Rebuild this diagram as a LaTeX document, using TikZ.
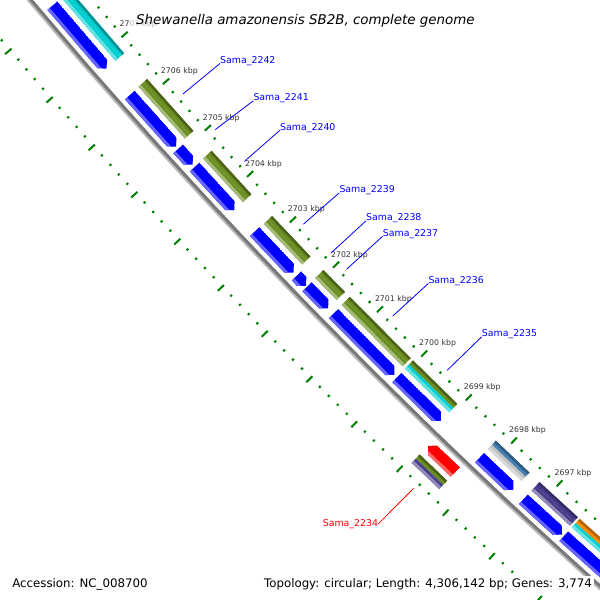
\documentclass[tikz,border=0pt]{standalone}
\usepackage{fontspec}
\setmainfont{DejaVu Sans}

\definecolor{cdsblue}{RGB}{0,0,255}
\definecolor{cogolive}{RGB}{107,142,35}
\definecolor{cogcyan}{RGB}{0,206,209}
\definecolor{cogpurple}{RGB}{72,61,139}
\definecolor{cogsteel}{RGB}{70,130,180}
\definecolor{cogsilver}{RGB}{192,192,192}
\definecolor{cogorange}{RGB}{255,140,0}
\definecolor{tickgreen}{RGB}{0,128,0}
\definecolor{bbdark}{RGB}{120,120,120}
\definecolor{bblight}{RGB}{185,185,185}

\newcommand{\cds}[5]{%
  \pgfmathsetmacro{\headu}{#2+0.1*sign(#1-(#2))}%
  \pgfmathsetmacro{\midr}{(#3+(#4))/2}%
  \begin{scope}
    \clip ({ga(#1)}:{rr(#3)}) -- ({ga(\headu)}:{rr(#3)}) -- ({ga(#2)}:{rr(\midr)}) -- ({ga(\headu)}:{rr(#4)}) -- ({ga(#1)}:{rr(#4)}) -- cycle;
    \fill[#5] ({ga(#1)}:{rr(#3)}) -- ({ga(#2)}:{rr(#3)}) -- ({ga(#2)}:{rr(#4)}) -- ({ga(#1)}:{rr(#4)}) -- cycle;
    \fill[#5!60!white] ({ga(#1)}:{rr(#4-3)}) -- ({ga(#2)}:{rr(#4-3)}) -- ({ga(#2)}:{rr(#4)}) -- ({ga(#1)}:{rr(#4)}) -- cycle;
  \end{scope}}

\newcommand{\cog}[6]{%
  \pgfmathsetmacro{\midr}{(#3+(#4))/2}%
  \fill[#5] ({ga(#1)}:{rr(#3)}) -- ({ga(#2)}:{rr(#3)}) -- ({ga(#2)}:{rr(\midr)}) -- ({ga(#1)}:{rr(\midr)}) -- cycle;
  \fill[#6] ({ga(#1)}:{rr(\midr)}) -- ({ga(#2)}:{rr(\midr)}) -- ({ga(#2)}:{rr(#4)}) -- ({ga(#1)}:{rr(#4)}) -- cycle;
  \fill[#5!70!black] ({ga(#1)}:{rr(#3)}) -- ({ga(#2)}:{rr(#3)}) -- ({ga(#2)}:{rr(#3+2.5)}) -- ({ga(#1)}:{rr(#3+2.5)}) -- cycle;
  \fill[#6!60!white] ({ga(#1)}:{rr(#4-3)}) -- ({ga(#2)}:{rr(#4-3)}) -- ({ga(#2)}:{rr(#4)}) -- ({ga(#1)}:{rr(#4)}) -- cycle;}

\begin{document}
\begin{tikzpicture}[
    x=1pt, y=-1pt,
    declare function={ga(\u)=134.675+0.615*\u; rr(\o)=5875.5+\o;},
    rulertick/.style={line width=2pt, tickgreen},
    kbp/.style={anchor=base west, inner sep=0pt, text=black!80, font=\fontsize{7.8}{9}\selectfont},
    glbl/.style={anchor=base west, inner sep=0pt, text=cdsblue, font=\fontsize{9.4}{11}\selectfont},
    gline/.style={cdsblue, line width=0.8pt},
    foot/.style={anchor=base west, fill=white, inner sep=2.5pt, font=\fontsize{11.8}{13}\selectfont}
]
\useasboundingbox (0,0) rectangle (600,600);
\clip (0,0) rectangle (600,600);

\node[glbl] (s2242) at (220,63.5) {Sama\_2242};
\node[glbl] (s2241) at (253.3,100.8) {Sama\_2241};
\node[glbl] (s2240) at (280,130.2) {Sama\_2240};
\node[glbl] (s2239) at (339.3,192.8) {Sama\_2239};
\node[glbl] (s2238) at (366,220.8) {Sama\_2238};
\node[glbl] (s2237) at (382.7,236.2) {Sama\_2237};
\node[glbl] (s2236) at (428.3,283.5) {Sama\_2236};
\node[glbl] (s2235) at (481.7,336.8) {Sama\_2235};
\node[glbl, anchor=base east, text=red] (s2234) at (378.3,526.2) {Sama\_2234};

\begin{scope}[shift={(4520,-3789)}]
\foreach \k in {-30,...,55}{
  \pgfmathsetmacro{\lo}{mod(\k,5)==0 ? 2 : 1.2}
  \pgfmathsetmacro{\hi}{mod(\k,5)==0 ? 6.4 : 1.2}
  \draw[rulertick] ({ga(\k/5)}:{rr(-47.5+\lo)}) -- ({ga(\k/5)}:{rr(-47.5-\hi)});
  \draw[rulertick] ({ga(\k/5)}:{rr(47.5-\lo)}) -- ({ga(\k/5)}:{rr(47.5+\hi)});
}

\cds{9.6}{8.22}{-20}{-7}{cdsblue}
\cds{8.10}{6.78}{-20}{-7}{cdsblue}
\cds{6.22}{5.12}{-20}{-7}{cdsblue}
\cds{5.07}{4.73}{-20}{-7}{cdsblue}
\cds{4.68}{3.75}{-20}{-7}{cdsblue}
\cds{3.28}{2.38}{-20}{-7}{cdsblue}
\cds{2.31}{2.09}{-20}{-7}{cdsblue}
\cds{2.07}{1.59}{-20}{-7}{cdsblue}
\cds{1.47}{0.10}{-20}{-7}{cdsblue}
\cds{0.04}{-0.94}{-20}{-7}{cdsblue}
\cds{-1.79}{-2.53}{-20}{-7}{cdsblue}
\cds{-2.75}{-3.58}{-20}{-7}{cdsblue}
\cds{-3.62}{-6}{-20}{-7}{cdsblue}
\cds{-1.67}{-1.07}{7}{20}{red}

\cog{6.78}{8.10}{-37}{-25.5}{cogcyan}{cogcyan}
\cog{5.12}{6.23}{-37}{-25.5}{cogolive}{cogolive}
\cog{3.75}{4.69}{-37}{-25.5}{cogolive}{cogolive}
\cog{2.38}{3.27}{-37}{-25.5}{cogolive}{cogolive}
\cog{1.59}{2.08}{-37}{-25.5}{cogolive}{cogolive}
\cog{0.10}{1.48}{-37}{-25.5}{cogolive}{cogolive}
\cog{-0.94}{0.05}{-37}{-25.5}{cogolive}{cogcyan}
\cog{-2.53}{-1.79}{-37}{-25.5}{cogsteel}{cogsilver}
\cog{-3.58}{-2.75}{-37}{-25.5}{cogpurple}{cogpurple}
\cog{-6}{-3.62}{-37}{-25.5}{cogorange}{cogcyan}
\cog{-1.67}{-1.07}{25.5}{37}{cogolive}{cogpurple}

\draw[line width=5pt, bblight] plot[domain=-7:11, samples=37] ({ga(\x)}:{rr(0)});
\draw[line width=3pt, bbdark] plot[domain=-7:11, samples=37] ({ga(\x)}:{rr(-1)});

\foreach \k in {-3,...,7}{
  \pgfmathtruncatemacro{\kb}{2700+\k}
  \path ({ga(\k)}:{rr(-47.5)}) ++(-3.6,-9.2) node[kbp] {\kb\ kbp};
}

\draw[gline] ({ga(5.67)}:{rr(-54)}) -- (s2242.base west);
\draw[gline] ({ga(4.90)}:{rr(-54)}) -- (s2241.base west);
\draw[gline] ({ga(4.21)}:{rr(-54)}) -- (s2240.base west);
\draw[gline] ({ga(2.83)}:{rr(-54)}) -- (s2239.base west);
\draw[gline] ({ga(2.19)}:{rr(-54)}) -- (s2238.base west);
\draw[gline] ({ga(1.83)}:{rr(-54)}) -- (s2237.base west);
\draw[gline] ({ga(0.78)}:{rr(-54)}) -- (s2236.base west);
\draw[gline] ({ga(-0.45)}:{rr(-54)}) -- (s2235.base west);
\draw[gline, red] ({ga(-1.37)}:{rr(54)}) -- (s2234.east);
\end{scope}

\node[anchor=base west, fill=white, fill opacity=0.7, text opacity=1, inner xsep=6pt, inner ysep=3.5pt, font=\fontsize{13.4}{15}\selectfont] (title) at (130,24) {\itshape Shewanella amazonensis SB2B, complete genome};
\node[foot] (acc) at (9.6,587) {Accession: NC\_008700};
\node[foot] (topo) at (261.4,587) {Topology: circular; Length: 4,306,142 bp; Genes: 3,774};
\end{tikzpicture}
\end{document}
